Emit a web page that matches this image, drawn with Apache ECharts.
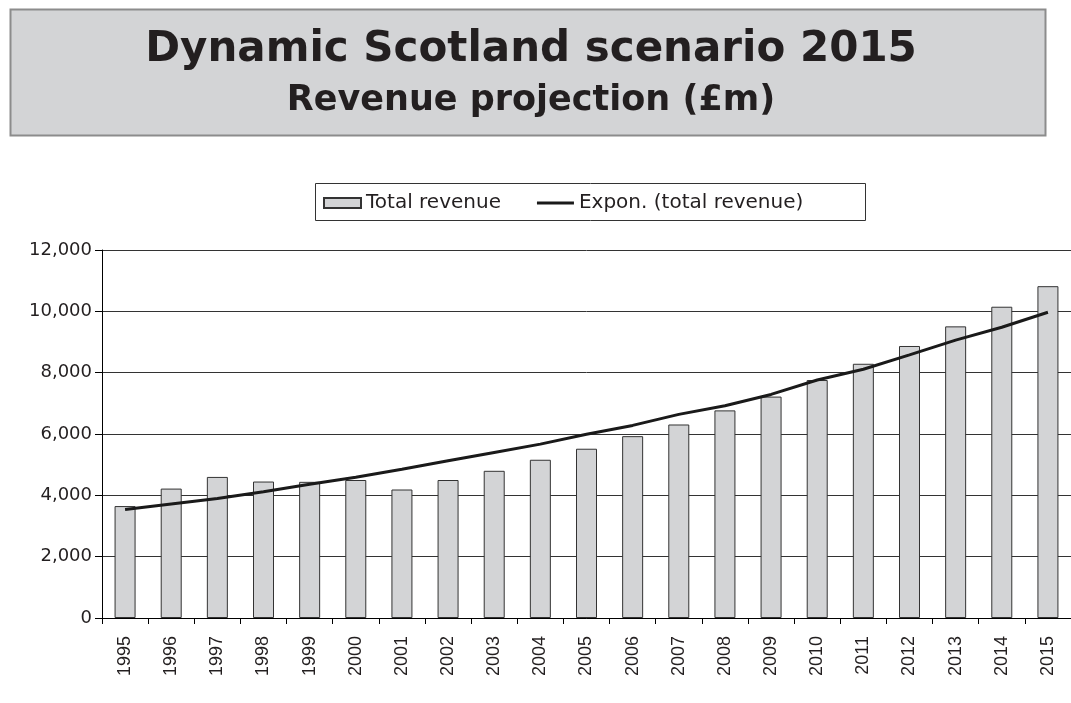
<!DOCTYPE html>
<html>
<head>
<meta charset="utf-8">
<script src="https://cdn.jsdelivr.net/npm/echarts@6/dist/echarts.min.js"></script>
<style>
  html, body { margin: 0; padding: 0; background: #ffffff; }
  #chart { width: 1071px; height: 703px; }
</style>
</head>
<body>
<div id="chart"></div>
<script>
const titleText = 'Dynamic Scotland scenario 2015';
const subtitleText = 'Revenue projection (£m)';
const years = ['1995','1996','1997','1998','1999','2000','2001','2002','2003','2004','2005',
               '2006','2007','2008','2009','2010','2011','2012','2013','2014','2015'];
const totalRevenue = [3650, 4220, 4600, 4450, 4440, 4500, 4190, 4500, 4800, 5160, 5520,
                      5930, 6310, 6770, 7220, 7760, 8290, 8870, 9510, 10150, 10820];
const exponTrend = [3540, 3720, 3900, 4120, 4360, 4590, 4850, 5130, 5400, 5670, 5990,
                    6280, 6640, 6920, 7290, 7760, 8110, 8580, 9060, 9480, 9970];
const seriesNames = ['Total revenue', 'Expon. (total revenue)'];
const yTicks = { min: 0, max: 12000, interval: 2000 };

const chart = echarts.init(document.getElementById('chart'), null, { renderer: 'canvas' });

const textColor = '#231f20';

const option = {
  backgroundColor: '#ffffff',
  animation: false,
  graphic: [
    {
      type: 'rect',
      shape: { x: 10.5, y: 9.5, width: 1035, height: 126 },
      style: { fill: '#d3d4d6', stroke: '#8c8c8c', lineWidth: 2 },
      z: 0
    },
    {
      type: 'text',
      style: {
        x: 531, y: 50, text: titleText, textAlign: 'center', textVerticalAlign: 'middle',
        font: 'bold 42px "DejaVu Sans"', fill: textColor
      },
      z: 1
    },
    {
      type: 'text',
      style: {
        x: 531, y: 101, text: subtitleText, textAlign: 'center', textVerticalAlign: 'middle',
        font: 'bold 35px "DejaVu Sans"', fill: textColor
      },
      z: 1
    },
    {
      type: 'rect',
      shape: { x: 315.5, y: 183.5, width: 550, height: 37 },
      style: { fill: '#ffffff', stroke: '#333333', lineWidth: 1 },
      z: 0
    }
  ],
  legend: {
    data: [
      { name: seriesNames[0], icon: 'rect' },
      { name: seriesNames[1], icon: 'path://M0,0 M0,3.5 L37,3.5 L37,6.5 L0,6.5 Z M37,10' }
    ],
    left: 318,
    top: 188,
    itemWidth: 37,
    itemHeight: 10,
    itemGap: 36,
    padding: 5,
    z: 5,
    textStyle: { fontFamily: 'DejaVu Sans', fontSize: 20, color: textColor }
  },
  grid: { left: 102, top: 250, width: 973, height: 368, containLabel: false },
  xAxis: {
    type: 'category',
    data: years,
    boundaryGap: true,
    axisLine: { show: true, lineStyle: { color: '#000000', width: 1 } },
    axisTick: { show: true, alignWithLabel: false, length: 6, lineStyle: { color: '#000000' } },
    axisLabel: {
      rotate: 90, margin: 18, interval: 0,
      fontFamily: 'Liberation Sans', fontSize: 18, color: textColor
    },
    splitLine: { show: false }
  },
  yAxis: {
    type: 'value',
    min: yTicks.min, max: yTicks.max, interval: yTicks.interval,
    axisLine: { show: true, lineStyle: { color: '#000000', width: 1 } },
    axisTick: { show: true, length: 7, lineStyle: { color: '#000000' } },
    axisLabel: {
      margin: 10, fontFamily: 'DejaVu Sans', fontSize: 18, color: textColor,
      formatter: v => v.toLocaleString('en-US')
    },
    splitLine: { show: true, lineStyle: { color: '#333333', width: 1 } }
  },
  series: [
    {
      name: seriesNames[0],
      type: 'bar',
      data: totalRevenue,
      barWidth: 21,
      itemStyle: { color: '#d3d4d6', borderColor: '#333333', borderWidth: 1 },
      z: 2
    },
    {
      name: seriesNames[1],
      type: 'line',
      data: exponTrend,
      symbol: 'none',
      showSymbol: false,
      smooth: false,
      lineStyle: { color: '#1a1a1a', width: 3 },
      itemStyle: { color: '#1a1a1a' },
      z: 3
    }
  ]
};

chart.setOption(option);
</script>
</body>
</html>
